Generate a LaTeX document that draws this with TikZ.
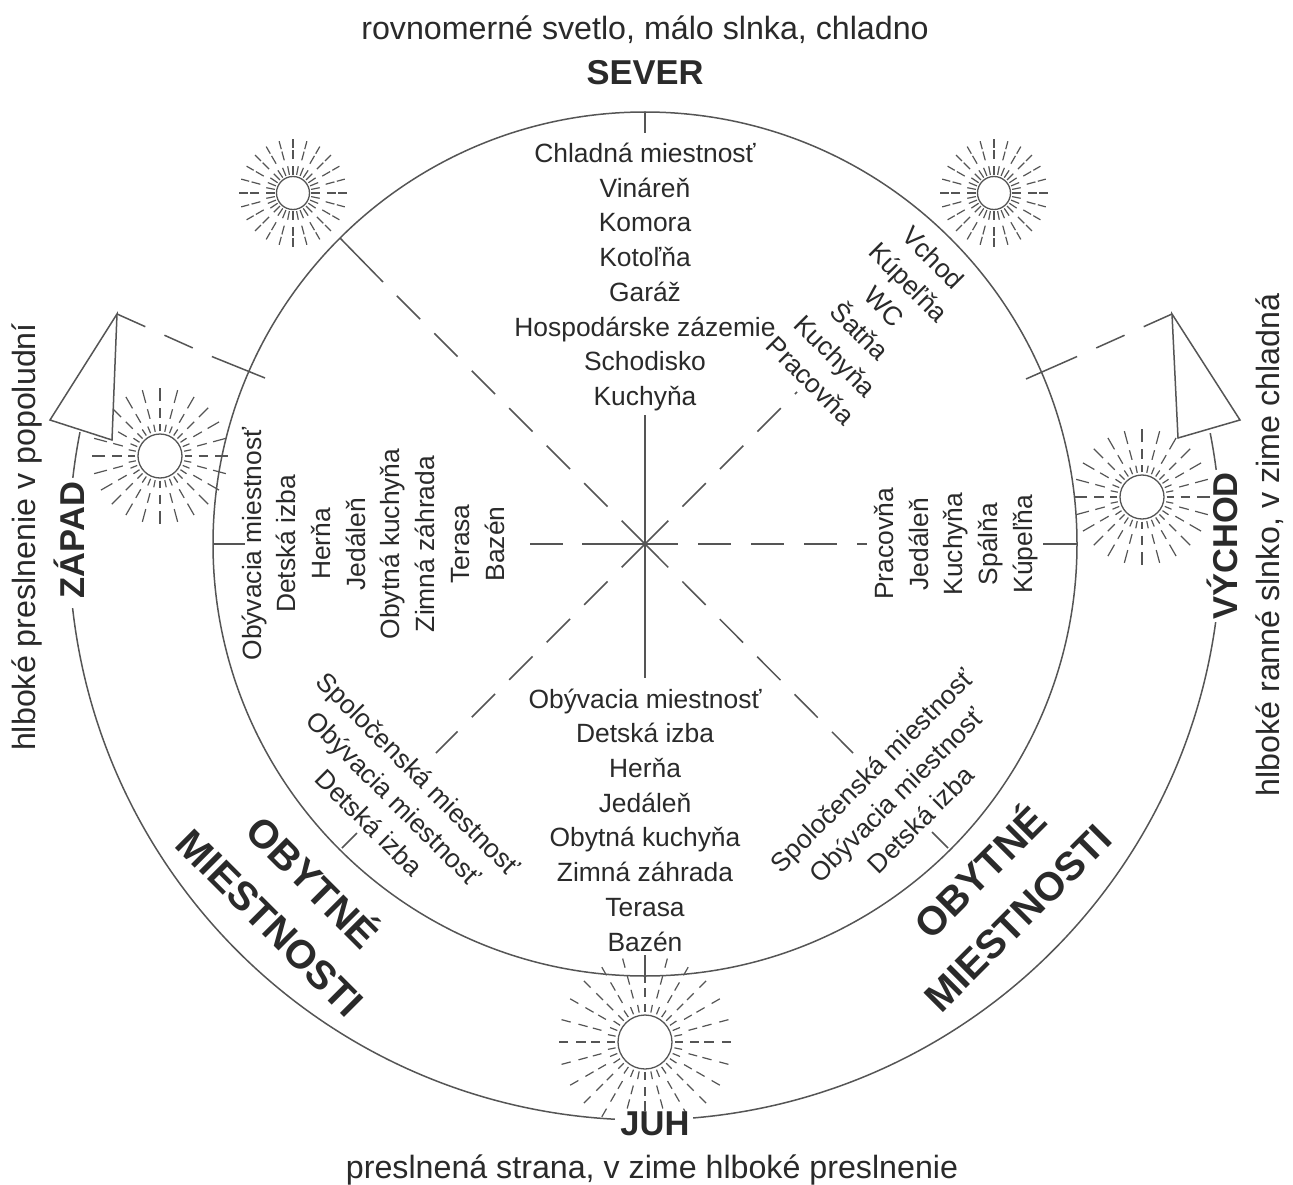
\documentclass[tikz,border=0pt]{standalone}
\usepackage{fontspec}
\setmainfont{Liberation Sans}
\usetikzlibrary{calc}
\definecolor{ink}{HTML}{2A2A2A}
\definecolor{wire}{HTML}{555555}
\newcommand\rimtext{\fontsize{26.4}{34.7}\selectfont}
\newcommand\sidetext{\fontsize{32.2}{36}\selectfont}
\newcommand\headtext{\fontsize{34.5}{38}\selectfont\bfseries}
\newcommand\biglabel{\fontsize{40}{42}\selectfont\bfseries}
% sun: centre name, radius, list of ring inner/outer/step
\newcommand\sunrays[3]{%
  \foreach \ra/\rb/\stp in {#3}{%
    \pgfmathsetmacro\lastang{360-\stp/2}%
    \pgfmathsetmacro\nextang{\stp}%
    \pgfmathsetmacro\raylen{(\rb-\ra)*#2}%
    \pgfmathsetmacro\rayin{\ra*#2}%
    \foreach \ang in {0,\nextang,...,\lastang}{%
      \draw[sunline] (#1) ++(canvas polar cs:angle=\ang,radius=\rayin pt) -- ++(canvas polar cs:angle=\ang,radius=\raylen pt);
    }%
  }%
  \draw[draw=wire,line width=1.3pt,fill=white] (#1) circle[radius=#2 pt];
}
\tikzset{
  every node/.style={text=ink,inner sep=0pt,outer sep=0pt},
  linework/.style={draw=wire,line width=1.5pt},
  thick spoke/.style={draw=wire,line width=2pt},
  longdash/.style={dash pattern=on 33pt off 20pt},
  wingdash/.style={dash pattern=on 31pt off 21pt},
  sunline/.style={draw=wire,line width=1.2pt},
  coltext/.style={align=center,font=\rimtext},
}
\begin{document}
\begin{tikzpicture}[x=1pt,y=-1pt]
\useasboundingbox (0,0) rectangle (1293,1185);
\fill[white] (0,0) rectangle (1293,1185);
\coordinate (c) at (645,544);
\coordinate (sunNW) at (293,193);
\coordinate (sunNE) at (994,193);
\coordinate (sunW) at (160,456);
\coordinate (sunE) at (1142,497);
\coordinate (sunS) at (645,1042);
% suns
\sunrays{sunNW}{16.5}{1.12/1.65/11.25,2.05/2.6/15,2.75/3.25/15}
\sunrays{sunNE}{16.5}{1.12/1.65/11.25,2.05/2.6/15,2.75/3.25/15}
\sunrays{sunW}{22}{1.12/1.45/11.25,1.75/2.2/15,2.5/3.1/15}
\sunrays{sunE}{22}{1.12/1.45/11.25,1.75/2.2/15,2.5/3.1/15}
\sunrays{sunS}{27}{1.11/1.4/11.25,1.67/2.0/15,2.2/2.55/15,2.85/3.2/15}
% main circle
\draw[linework] (c) circle[radius=432pt];
% outer arcs
\path (c) ++(canvas polar cs:angle=168.8,radius=576pt) coordinate (oa1);
\path (c) ++(canvas polar cs:angle=186.4,radius=576pt) coordinate (oa2);
\path (c) ++(canvas polar cs:angle=274.8,radius=576pt) coordinate (oa3);
\path (c) ++(canvas polar cs:angle=7.4,radius=576pt) coordinate (oa4);
\draw[linework] (oa1) arc[start angle=168.8,end angle=173.4,radius=576pt];
\draw[linework] (oa2) arc[start angle=186.4,end angle=267,radius=576pt];
\draw[linework] (oa3) arc[start angle=274.8,end angle=352.2,radius=576pt];
\draw[linework] (oa4) arc[start angle=7.4,end angle=11.1,radius=576pt];
% spokes
\coordinate (nIn) at (645,415); \coordinate (nA) at (645,112); \coordinate (nB) at (645,133);
\coordinate (sIn) at (645,678); \coordinate (sA) at (645,955); \coordinate (sB) at (645,976);
\coordinate (wA) at (213,544); \coordinate (wB) at (245,544);
\coordinate (wC) at (530,544); \coordinate (wD) at (563,544); \coordinate (wE) at (582,544);
\coordinate (eA) at (1043,544); \coordinate (eB) at (1078,544); \coordinate (eC) at (867,544);
\coordinate (nwA) at (340,238); \coordinate (nwB) at (383,282);
\coordinate (neA) at (797,392);
\coordinate (seA) at (853,753);
\coordinate (swA) at (436,753);
\coordinate (swT1) at (342,848); \coordinate (swT2) at (357,833);
\coordinate (seT1) at (948,848); \coordinate (seT2) at (932,832);
\draw[thick spoke] (c) -- (nIn);
\draw[thick spoke] (c) -- (sIn);
\draw[linework] (nA) -- (nB);
\draw[linework] (sA) -- (sB);
\draw[thick spoke] (wA) -- (wB);
\draw[thick spoke] (eA) -- (eB);
\draw[thick spoke] (wC) -- (wD);
\draw[thick spoke] (wE) -- (c);
\draw[thick spoke,longdash] (c) -- (eC);
\draw[linework] (nwA) -- (nwB);
\draw[linework,longdash] (c) -- (nwB);
\draw[linework,longdash] (c) -- (neA);
\draw[linework,longdash] (c) -- (seA);
\draw[linework,longdash] (c) -- (swA);
\draw[linework] (swT1) -- (swT2);
\draw[linework] (seT1) -- (seT2);
% wings
\coordinate (lw1) at (117,314); \coordinate (lw2) at (50,420); \coordinate (lw3) at (112,440);
\coordinate (lw4) at (265,378); \coordinate (lw5) at (213,357);
\coordinate (rw1) at (1172,314); \coordinate (rw2) at (1240,420); \coordinate (rw3) at (1178,438);
\coordinate (rw4) at (1026,379); \coordinate (rw5) at (1076,357);
\draw[linework,fill=white] (lw1) -- (lw2) -- (lw3) -- cycle;
\draw[linework,fill=white] (rw1) -- (rw2) -- (rw3) -- cycle;
\draw[linework,wingdash] (lw1) -- (lw5);
\draw[linework] (lw5) -- (lw4);
\draw[linework,wingdash] (rw1) -- (rw5);
\draw[linework] (rw5) -- (rw4);
% columns
\node[coltext] (north) at (645,277) {Chladná miestnosť\\Vináreň\\Komora\\Kotoľňa\\Garáž\\Hospodárske zázemie\\Schodisko\\Kuchyňa};
\node[coltext] (south) at (645,820) {Obývacia miestnosť\\Detská izba\\Herňa\\Jedáleň\\Obytná kuchyňa\\Zimná záhrada\\Terasa\\Bazén};
\node[coltext,rotate=90] (west) at (373,544) {Obývacia miestnosť\\Detská izba\\Herňa\\Jedáleň\\Obytná kuchyňa\\Zimná záhrada\\Terasa\\Bazén};
\node[coltext,rotate=90] (east) at (956,544) {Pracovňa\\Jedáleň\\Kuchyňa\\Spálňa\\Kúpeľňa};
\node[coltext,rotate=-45] (ne) at (872,319) {Vchod\\Kúpeľňa\\WC\\Šatňa\\Kuchyňa\\Pracovňa};
\node[coltext,rotate=-45] (sw) at (394,798) {Spoločenská miestnosť\\Obývacia miestnosť\\Detská izba};
\node[coltext,rotate=45] (se) at (896,795) {Spoločenská miestnosť\\Obývacia miestnosť\\Detská izba};
% big labels
\node[font=\biglabel,rotate=-45] (o1) at (315,880) {OBYTNÉ};
\node[font=\biglabel,rotate=-45] (m1) at (270,923) {MIESTNOSTI};
\node[font=\biglabel,rotate=45] (o2) at (978,870) {OBYTNÉ};
\node[font=\biglabel,rotate=45] (m2) at (1018,918) {MIESTNOSTI};
% headings
\node[font=\headtext] (sever) at (645,73) {SEVER};
\node[font=\headtext,fill=white,inner xsep=3pt] (juh) at (655,1124) {JUH};
\node[font=\headtext,rotate=90] (zapad) at (69,540) {ZÁPAD};
\node[font=\headtext,rotate=90] (vychod) at (1222,546) {VÝCHOD};
\node[font=\sidetext] (t1) at (645,30) {rovnomerné svetlo, málo slnka, chladno};
\node[font=\sidetext] (t2) at (652,1170) {preslnená strana, v zime hlboké preslnenie};
\node[font=\sidetext,rotate=90] (t3) at (27,537) {hlboké preslnenie v popoludní};
\node[font=\sidetext,rotate=90] (t4) at (1270,545) {hlboké ranné slnko, v zime chladná};
\end{tikzpicture}
\end{document}
